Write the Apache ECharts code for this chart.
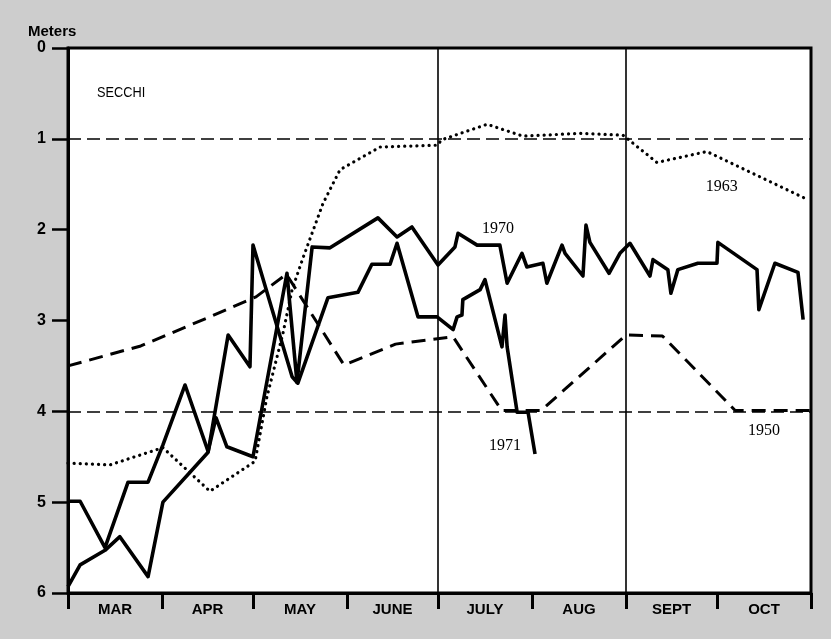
<!DOCTYPE html>
<html>
<head>
<meta charset="utf-8">
<script src="https://cdn.jsdelivr.net/npm/echarts@6/dist/echarts.min.js"></script>
<style>
  html, body { margin: 0; padding: 0; background: #cdcdcd; }
  #chart { width: 831px; height: 639px; }
</style>
</head>
<body>
<div id="chart"></div>
<script>
// Secchi disc depth (meters), days counted from 1 March
const monthNames  = ['MAR', 'APR', 'MAY', 'JUNE', 'JULY', 'AUG', 'SEPT', 'OCT'];
const monthStarts = [0, 31, 61, 92, 122, 153, 184, 214, 245];
const depthTicks  = [0, 1, 2, 3, 4, 5, 6];

const days1950 = [0, 24, 46, 62, 72, 91, 108, 127, 143, 156, 184, 196, 220, 245];
const depth1950 = [3.5, 3.28, 2.97, 2.74, 2.49, 3.49, 3.26, 3.18, 3.99, 3.99, 3.16, 3.17, 3.99, 3.99];

const days1963 = [0, 13.8, 31.3, 46.8, 61.7, 65.6, 70.9, 73.9, 77.5, 84.1, 89.7, 102.9, 121.7, 123.3, 138.2, 150, 168.8, 183, 194.2, 210.7, 244];
const depth1963 = [4.57, 4.59, 4.40, 4.88, 4.55, 3.84, 3.14, 2.66, 2.31, 1.71, 1.34, 1.09, 1.07, 1.01, 0.84, 0.97, 0.94, 0.96, 1.26, 1.14, 1.67];

const days1970 = [0, 4, 12.2, 19.8, 26.4, 31.3, 38.6, 46.2, 48.8, 52.4, 61, 72.2, 75.5, 80.5, 86.4, 102.2, 108.5, 113.4, 122, 127.6, 128.6, 134.9, 142.4, 144.8, 149.7, 151.3, 156.6, 157.9, 162.9, 163.9, 169.8, 170.8, 172.1, 178.4, 182, 185.3, 191.9, 192.9, 197.8, 198.8, 201.1, 207.7, 214, 214.3, 227.2, 227.8, 233.1, 240.7, 242.4];
const depth1970 = [4.99, 4.99, 5.50, 4.78, 4.78, 4.37, 3.71, 4.44, 4.07, 4.39, 4.50, 2.48, 3.68, 2.19, 2.20, 1.87, 2.08, 1.97, 2.39, 2.19, 2.04, 2.17, 2.17, 2.59, 2.26, 2.41, 2.37, 2.59, 2.17, 2.26, 2.51, 1.95, 2.14, 2.48, 2.26, 2.15, 2.51, 2.33, 2.44, 2.70, 2.44, 2.37, 2.37, 2.14, 2.44, 2.88, 2.37, 2.47, 2.99];

const days1971 = [0, 4, 12.2, 17.1, 26.4, 31.3, 46.2, 52.8, 60, 61, 67.3, 73.9, 75.8, 85.7, 95.6, 100.2, 106.2, 108.5, 115.4, 121.7, 127, 128.3, 129.9, 130.2, 135.9, 137.5, 143.1, 144.1, 144.8, 148.1, 151.7, 154];
const depth1971 = [5.93, 5.69, 5.53, 5.38, 5.82, 5.00, 4.45, 3.16, 3.51, 2.17, 2.88, 3.62, 3.69, 2.75, 2.69, 2.38, 2.38, 2.15, 2.96, 2.96, 3.10, 2.96, 2.94, 2.77, 2.66, 2.55, 3.29, 2.94, 3.29, 4.01, 4.01, 4.47];

// reference lines
const guideDepths = [1, 4];
const guideDays = [122, 184];

// curve labels: [day, depth, text]
const curveLabels = [
  [141.8, 1.99, '1970'],
  [144.1, 4.38, '1971'],
  [215.6, 1.53, '1963'],
  [229.5, 4.21, '1950']
];

const zip = (xs, ys) => xs.map((x, i) => [x, ys[i]]);
const monthMids = monthNames.map((_, i) => (monthStarts[i] + monthStarts[i + 1]) / 2);

const serifFont = '"Liberation Serif", "DejaVu Serif", serif';
const boldFont = '"Liberation Sans", Arial, sans-serif';

function labelPoint(item) {
  return {
    coord: [item[0], item[1]],
    symbol: 'circle',
    symbolSize: 1,
    itemStyle: { color: 'rgba(0,0,0,0)' },
    label: {
      show: true,
      position: 'inside',
      formatter: item[2],
      color: '#000',
      fontFamily: serifFont,
      fontSize: 16
    }
  };
}

const chart = echarts.init(document.getElementById('chart'), null, { renderer: 'canvas' });

chart.setOption({
  animation: false,
  backgroundColor: '#cdcdcd',
  grid: {
    left: 68, top: 48, right: 20, bottom: 46,
    show: true, backgroundColor: '#ffffff', borderColor: '#000', borderWidth: 3
  },
  graphic: [
    {
      type: 'text', left: 28, top: 24,
      style: { text: 'Meters', font: 'bold 15px ' + boldFont, fill: '#000' }
    },
    {
      type: 'text', x: 97, y: 85, scaleX: 0.85,
      style: { text: 'SECCHI', font: '15px ' + boldFont, fill: '#000' }
    }
  ],
  xAxis: {
    type: 'value', min: 0, max: 245,
    splitLine: { show: false },
    axisLine: { show: true, onZero: false, lineStyle: { color: '#000', width: 3 } },
    axisTick: {
      show: true, inside: false, length: 16, customValues: monthStarts,
      lineStyle: { color: '#000', width: 3 }
    },
    axisLabel: {
      show: true, margin: 9, customValues: monthMids,
      formatter: v => {
        const i = monthMids.findIndex(m => Math.abs(m - v) < 0.01);
        return i >= 0 ? monthNames[i] : '';
      },
      color: '#000', fontFamily: boldFont, fontWeight: 'bold', fontSize: 15
    }
  },
  yAxis: {
    type: 'value', inverse: true, min: 0, max: 6, interval: 1,
    splitLine: { show: false },
    axisLine: { show: true, onZero: false, lineStyle: { color: '#000', width: 3 } },
    axisTick: { show: true, inside: false, length: 16, lineStyle: { color: '#000', width: 2.5 } },
    axisLabel: {
      show: true, margin: 22,
      formatter: v => depthTicks.includes(v) ? String(v) : '',
      color: '#000', fontFamily: boldFont, fontWeight: 'bold', fontSize: 16
    }
  },
  series: [
    {
      name: 'guides', type: 'line', data: [], silent: true, z: 1,
      markLine: {
        silent: true, symbol: 'none', label: { show: false },
        data: [
          ...guideDepths.map(d => ({ yAxis: d, lineStyle: { color: '#000', width: 1.5, type: [13, 6] } })),
          ...guideDays.map(d => ({ xAxis: d, lineStyle: { color: '#000', width: 1.6, type: 'solid' } }))
        ]
      }
    },
    {
      name: '1950', type: 'line', data: zip(days1950, depth1950), showSymbol: false, z: 3,
      lineStyle: { color: '#000', width: 3, type: [14, 8] },
      markPoint: { silent: true, data: [labelPoint(curveLabels[3])] }
    },
    {
      name: '1963', type: 'line', data: zip(days1963, depth1963), showSymbol: false, z: 3,
      lineStyle: { color: '#000', width: 3.2, type: [0.1, 6], cap: 'round' },
      markPoint: { silent: true, data: [labelPoint(curveLabels[2])] }
    },
    {
      name: '1970', type: 'line', data: zip(days1970, depth1970), showSymbol: false, z: 4,
      lineStyle: { color: '#000', width: 3.6, join: 'round' },
      markPoint: { silent: true, data: [labelPoint(curveLabels[0])] }
    },
    {
      name: '1971', type: 'line', data: zip(days1971, depth1971), showSymbol: false, z: 4,
      lineStyle: { color: '#000', width: 3.6, join: 'round' },
      markPoint: { silent: true, data: [labelPoint(curveLabels[1])] }
    }
  ]
});
</script>
</body>
</html>
